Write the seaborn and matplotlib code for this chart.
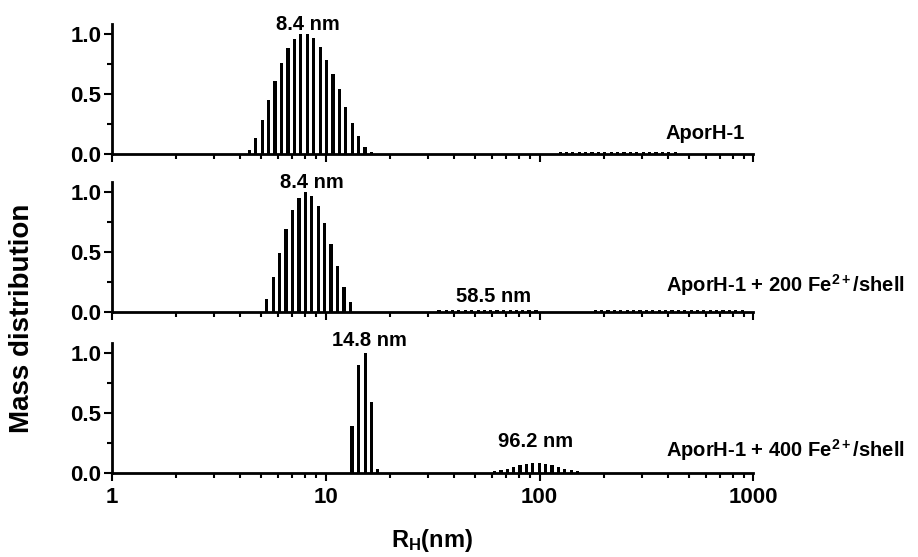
"""
DLS mass distribution of AporH-1 with increasing Fe2+ loading (three stacked panels).
"""

import numpy as np
import matplotlib
matplotlib.use("Agg")
import matplotlib.pyplot as plt
from matplotlib.ticker import MultipleLocator, FuncFormatter, LogLocator, NullFormatter
import seaborn as sns

# ---- data ------------------------------------------------------------------
# panel 1: AporH-1
p1_rh = [4.41, 4.72, 5.06, 5.42, 5.81, 6.23, 6.67, 7.15, 7.66, 8.21,
         8.80, 9.43, 10.11, 10.83, 11.60, 12.44, 13.33, 14.28, 15.30, 16.41]
p1_mass = [0.03, 0.13, 0.28, 0.45, 0.61, 0.76, 0.88, 0.96, 1.00, 1.00,
           0.97, 0.89, 0.78, 0.67, 0.54, 0.39, 0.26, 0.15, 0.06, 0.015]
p1_trace_rh = [125, 134, 143, 153, 164, 176, 188, 202, 216, 232,
               248, 266, 285, 305, 327, 350, 375, 402, 431]
p1_trace_mass = [0.013, 0.013, 0.013, 0.013, 0.013, 0.013, 0.013, 0.013,
                 0.013, 0.013, 0.013, 0.013, 0.013, 0.013, 0.013, 0.013,
                 0.013, 0.013, 0.013]

# panel 2: AporH-1 + 200 Fe2+/shell
p2_rh = [5.31, 5.69, 6.10, 6.54, 7.00, 7.51, 8.05, 8.62, 9.25, 9.90,
         10.61, 11.38, 12.19, 13.06]
p2_mass = [0.11, 0.29, 0.49, 0.69, 0.85, 0.95, 1.00, 0.97, 0.88, 0.74,
           0.57, 0.38, 0.21, 0.08]
p2_trace1_rh = [34, 37, 39, 42, 45, 48, 52, 55, 59, 63, 68, 73, 78, 83, 89, 96]
p2_trace1_mass = [0.013, 0.013, 0.013, 0.013, 0.013, 0.013, 0.013, 0.013,
                  0.013, 0.013, 0.013, 0.013, 0.013, 0.013, 0.013, 0.013]
p2_trace2_rh = [182, 195, 209, 224, 240, 257, 275, 295, 316, 338, 362, 388,
                416, 445, 477, 511, 547, 586, 628, 672, 720, 771, 826, 885]
p2_trace2_mass = [0.013, 0.013, 0.013, 0.013, 0.013, 0.013, 0.013, 0.013,
                  0.013, 0.013, 0.013, 0.013, 0.013, 0.013, 0.013, 0.013,
                  0.013, 0.013, 0.013, 0.013, 0.013, 0.013, 0.013, 0.013]

# panel 3: AporH-1 + 400 Fe2+/shell
p3_rh = [13.26, 14.29, 15.35, 16.44, 17.54]
p3_mass = [0.39, 0.90, 1.00, 0.59, 0.035]
p3_trace_rh = [61.7, 66.1, 70.8, 75.7, 81.1, 86.9, 93.1, 99.7, 106.7,
               114.3, 122.5, 131.2, 140.5, 150.6]
p3_trace_mass = [0.02, 0.025, 0.035, 0.05, 0.065, 0.075, 0.08, 0.08, 0.075,
                 0.065, 0.05, 0.035, 0.025, 0.02]

# peak labels (text, x, y) and sample names
p1_peaks = [("8.4 nm", 8.3, 1.08)]
p2_peaks = [("8.4 nm", 8.6, 1.075), ("58.5 nm", 61, 0.125)]
p3_peaks = [("14.8 nm", 16.0, 1.10), ("96.2 nm", 96.2, 0.26)]
sample_names = ["AporH-1",
                r"AporH-1 + 200 Fe$^{2+}$/shell",
                r"AporH-1 + 400 Fe$^{2+}$/shell"]
sample_y = [0.175, 0.225, 0.19]
x_ticks = [1, 10, 100, 1000]

# ---- style -------------------------------------------------------------------
sns.set_style("ticks")
plt.rcParams["font.family"] = ["Liberation Sans", "DejaVu Sans"]
plt.rcParams["font.weight"] = "bold"
plt.rcParams["text.color"] = "black"
plt.rcParams["axes.edgecolor"] = "black"
plt.rcParams["axes.labelcolor"] = "black"
plt.rcParams["xtick.color"] = "black"
plt.rcParams["ytick.color"] = "black"
plt.rcParams["mathtext.fontset"] = "custom"
plt.rcParams["mathtext.rm"] = "Liberation Sans:bold"
plt.rcParams["mathtext.it"] = "Liberation Sans:bold"
plt.rcParams["mathtext.bf"] = "Liberation Sans:bold"
plt.rcParams["axes.linewidth"] = 2.0


def draw_bars(ax, rh, mass):
    """Narrow bars centred on each radius, on a log x axis."""
    rh = np.array(rh, float)
    mass = np.array(mass, float)
    lx = np.log10(rh)
    mid = (lx[1:] + lx[:-1]) / 2
    edges = np.concatenate([[2 * lx[0] - mid[0]], mid, [2 * lx[-1] - mid[-1]]])
    sns.histplot(x=rh, weights=mass, bins=edges.tolist(), log_scale=True,
                 shrink=0.5, color="black", alpha=1, linewidth=0, ax=ax)


fig = plt.figure(figsize=(9.18, 5.57), dpi=100)
left, width, height = 0.1215, 0.6993, 0.2327
bottoms = [0.7235, 0.4399, 0.1508]

panels = [
    ([(p1_trace_rh, p1_trace_mass), (p1_rh, p1_mass)], p1_peaks),
    ([(p2_trace1_rh, p2_trace1_mass), (p2_trace2_rh, p2_trace2_mass),
      (p2_rh, p2_mass)], p2_peaks),
    ([(p3_trace_rh, p3_trace_mass), (p3_rh, p3_mass)], p3_peaks),
]

for i, (groups, peaks) in enumerate(panels):
    ax = fig.add_axes([left, bottoms[i], width, height])
    for rh, mass in groups:
        draw_bars(ax, rh, mass)

    ax.set_xscale("log")
    ax.set_xlim(1, 1000)
    ax.set_ylim(0, 1.08)
    ax.set_xlabel("")
    ax.set_ylabel("")
    sns.despine(ax=ax)

    ax.set_xticks(x_ticks)
    ax.xaxis.set_minor_locator(LogLocator(base=10, subs=np.arange(2, 10)))
    ax.xaxis.set_minor_formatter(NullFormatter())
    ax.xaxis.set_major_formatter(FuncFormatter(lambda v, _: f"{v:g}"))
    ax.yaxis.set_major_locator(MultipleLocator(0.5))
    ax.yaxis.set_minor_locator(MultipleLocator(0.25))
    ax.yaxis.set_major_formatter(FuncFormatter(lambda v, _: f"{v:.1f}"))

    ax.tick_params(which="major", direction="out", length=5.8, width=1.5,
                   labelsize=16, color="black", labelcolor="black")
    ax.tick_params(which="minor", direction="out", length=3.6, width=1.5,
                   color="black")
    ax.tick_params(axis="y", pad=1.5)
    ax.tick_params(axis="x", pad=4)
    if i < 2:
        ax.tick_params(axis="x", labelbottom=False)
    for lab in ax.get_xticklabels() + ax.get_yticklabels():
        lab.set_fontweight("bold")

    for text, x, y in peaks:
        ax.text(x, y, text, ha="center", va="center", fontsize=14.5,
                fontweight="bold", color="black", clip_on=False)
    ax.text(390, sample_y[i], sample_names[i], ha="left", va="center",
            fontsize=14.5, fontweight="bold", color="black", clip_on=False)

fig.text(22 / 918, 1 - 318 / 557, "Mass distribution", rotation=90,
         ha="center", va="center", fontsize=20, fontweight="bold")
fig.text(432 / 918, 1 - 541 / 557, r"R$_{\rm H}$(nm)", ha="center",
         va="center", fontsize=17, fontweight="bold")

fig.savefig("out.png", dpi=100)
